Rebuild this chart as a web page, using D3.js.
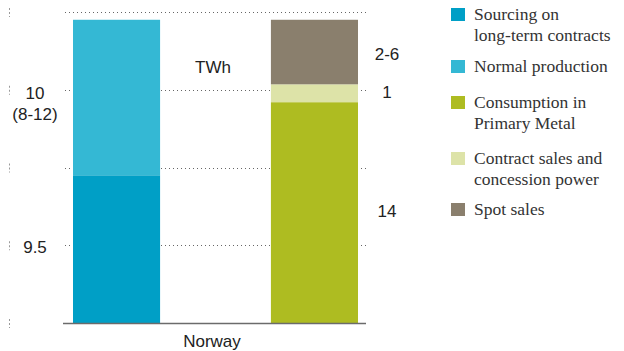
<!DOCTYPE html>
<html>
<head>
<meta charset="utf-8">
<script src="https://cdn.jsdelivr.net/npm/d3@7"></script>
<style>
  html, body { margin: 0; padding: 0; background: #ffffff; }
  svg { display: block; }
</style>
</head>
<body>
<svg id="chart" width="624" height="351"></svg>
<script>
// ---- data ----
const category = "Norway";
const bars = ["supply", "use"];
const seriesNames = ["Sourcing on long-term contracts", "Normal production", "Consumption in Primary Metal", "Contract sales and concession power", "Spot sales"];
const legendLines = [["Sourcing on", "long-term contracts"], ["Normal production"], ["Consumption in", "Primary Metal"], ["Contract sales and", "concession power"], ["Spot sales"]];
const seriesColors = ["#009fc6", "#34b8d4", "#aebc21", "#dde3a8", "#8a7f6d"];
const supplyValues = [9.5, 10];          // sourcing, normal production
const useValues = [14.2, 1.15, 4.15];    // consumption, contract sales, spot sales
const gridTicks = [0, 5, 10, 15, 20];
const supplyLabels = [{ v: 14.4, t: ["10", "(8-12)"] }, { v: 4.5, t: ["9.5"] }];
const useLabels = [{ v: 16.9, t: "2-6" }, { v: 14.5, t: "1" }, { v: 6.8, t: "14" }];
const unitLabel = "TWh";

// ---- scales ----
const svg = d3.select("#chart");
const y = d3.scaleLinear().domain([0, 20]).range([323, 12]);
const x = d3.scaleBand().domain(bars).range([73, 358]).paddingInner(0.56).paddingOuter(0);

const sans = "'Liberation Sans', Arial, Helvetica, sans-serif";
const serif = "'Liberation Serif', 'Times New Roman', serif";

// left dotted axis ticks
svg.append("g").selectAll("line").data(gridTicks).join("line")
  .attr("x1", 9.5).attr("x2", 9.5)
  .attr("y1", d => y(d) - 4).attr("y2", d => y(d) + 5)
  .attr("stroke", "#9a9a9a").attr("stroke-width", 1).attr("stroke-dasharray", "2,2");

// gridlines
svg.append("g").selectAll("line").data(gridTicks.filter(d => d > 0)).join("line")
  .attr("x1", 65).attr("x2", 366)
  .attr("y1", d => Math.round(y(d)) + 0.5).attr("y2", d => Math.round(y(d)) + 0.5)
  .attr("stroke", "#666").attr("stroke-width", 1).attr("stroke-dasharray", "1,3");

// stacks
function stackRects(key, vals, colors) {
  let acc = 0;
  return vals.map((v, i) => { const r = { key, y0: acc, y1: acc + v, color: colors[i] }; acc += v; return r; });
}
const rects = stackRects("supply", supplyValues, seriesColors.slice(0, 2))
  .concat(stackRects("use", useValues, seriesColors.slice(2)));
svg.append("g").selectAll("rect").data(rects).join("rect")
  .attr("x", d => x(d.key)).attr("width", x.bandwidth())
  .attr("y", d => y(d.y1)).attr("height", d => y(d.y0) - y(d.y1))
  .attr("fill", d => d.color);

// baseline
svg.append("line").attr("x1", 63).attr("x2", 366).attr("y1", y(0) + 0.5).attr("y2", y(0) + 0.5)
  .attr("stroke", "#6b6b6b").attr("stroke-width", 1.5);

// supply labels (left)
supplyLabels.forEach(l => {
  const t = svg.append("text").attr("x", 35).attr("y", y(l.v))
    .attr("text-anchor", "middle").attr("font-family", sans).attr("font-size", 17).attr("fill", "#222");
  l.t.forEach((s, i) => t.append("tspan").attr("x", 35).attr("dy", i === 0 ? 0 : 21).text(s));
});

// use labels (right)
useLabels.forEach(l => {
  svg.append("text").attr("x", 387).attr("y", y(l.v))
    .attr("text-anchor", "middle").attr("font-family", sans).attr("font-size", 17).attr("fill", "#222").text(l.t);
});

// unit
svg.append("text").attr("x", 213).attr("y", 73).attr("text-anchor", "middle")
  .attr("font-family", sans).attr("font-size", 17).attr("fill", "#222").text(unitLabel);

// category
svg.append("text").attr("x", 212).attr("y", 347).attr("text-anchor", "middle")
  .attr("font-family", sans).attr("font-size", 17).attr("fill", "#222").text(category);

// legend
const legendTops = [8, 60, 96, 152, 203];
const lg = svg.append("g");
legendLines.forEach((lines, i) => {
  lg.append("rect").attr("x", 451).attr("y", legendTops[i]).attr("width", 14).attr("height", 13).attr("fill", seriesColors[i]);
  const t = lg.append("text").attr("x", 474).attr("y", legendTops[i] + 12)
    .attr("font-family", serif).attr("font-size", 17.5).attr("fill", "#333");
  lines.forEach((s, j) => t.append("tspan").attr("x", 474).attr("dy", j === 0 ? 0 : 21).text(s));
});
</script>
</body>
</html>
